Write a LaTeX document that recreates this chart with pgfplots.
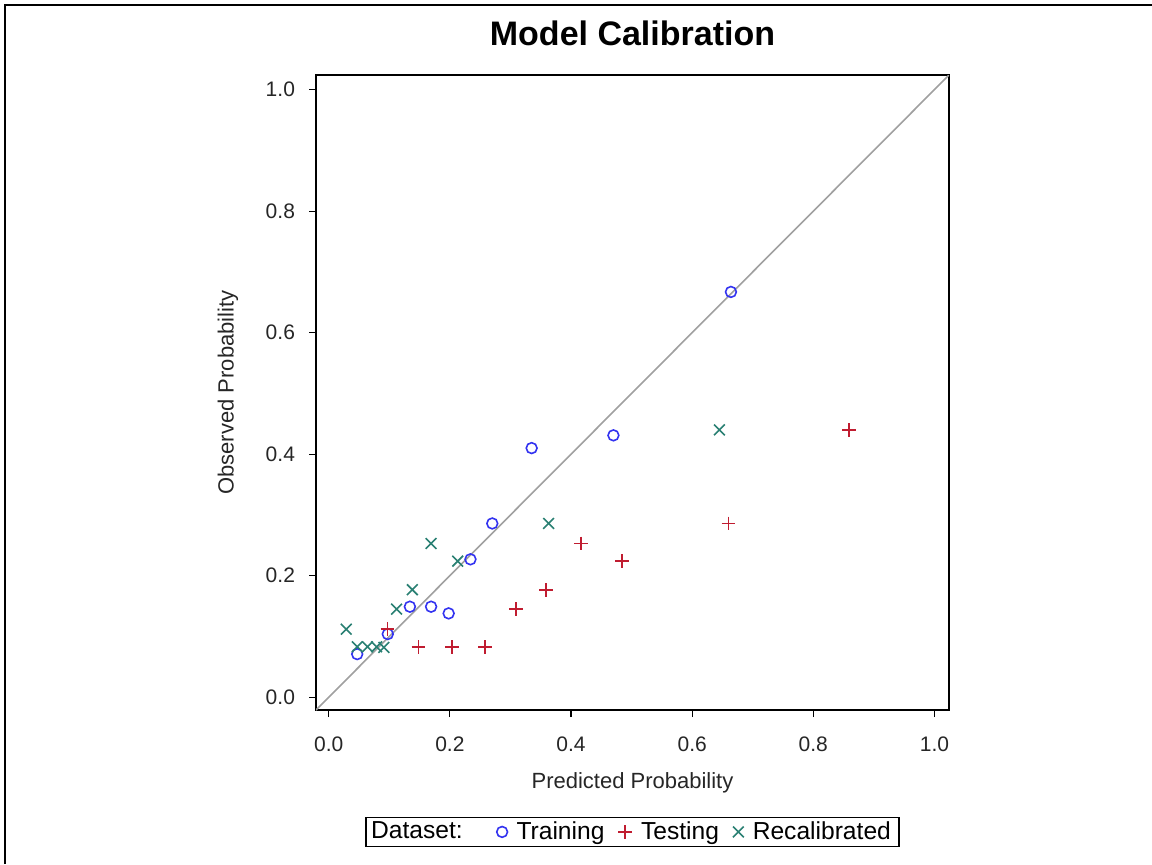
\documentclass[border=0pt]{standalone}
\usepackage{pgfplots}
\pgfplotsset{compat=1.18}
\usepackage{fontspec}
\setmainfont{Liberation Sans}
\definecolor{trainc}{RGB}{51,51,240}
\definecolor{testc}{RGB}{192,28,48}
\definecolor{recalc}{RGB}{42,128,115}
\definecolor{diagc}{RGB}{160,160,160}
\begin{document}
\begin{tikzpicture}
\path[use as bounding box] (0,0) rectangle (576pt,432pt);
\draw[line width=1pt] (2.5pt,0) -- (2.5pt,429.5pt) -- (576pt,429.5pt);
\begin{axis}[
  at={(158pt,77pt)}, anchor=south west,
  scale only axis, width=316.5pt, height=317.5pt,
  xmin=-0.021, xmax=1.024, ymin=-0.021, ymax=1.024,
  axis line style={line width=0.7pt},
  xtick={0,0.2,0.4,0.6,0.8,1.0}, ytick={0,0.2,0.4,0.6,0.8,1.0},
  tick align=outside, major tick length=3.5pt,
  tick style={black, line width=0.6pt},
  xtick pos=bottom, ytick pos=left,
  /pgf/number format/assume math mode=true,
  /pgf/number format/.cd, fixed, fixed zerofill, precision=1, /pgfplots/.cd,
  ticklabel style={font=\fontsize{10.5}{12}\selectfont, text=black!85},
  xticklabel style={yshift=-6.5pt},
  yticklabel style={xshift=-3.5pt},
  xlabel={Predicted Probability}, ylabel={Observed Probability},
  label style={font=\fontsize{11}{13}\selectfont, text=black!85},
  xlabel style={at={(axis description cs:0.5,-0.115)}, anchor=center},
  ylabel style={at={(axis description cs:-0.139,0.5)}, anchor=center},
  title={Model Calibration},
  title style={font=\bfseries\fontsize{17}{20}\selectfont, at={(axis description cs:0.5,1.047)}, anchor=center},
  legend columns=-1,
  legend style={at={(axis description cs:0.5,-0.192)}, anchor=center,
    draw=black, line width=0.8pt, font=\fontsize{12.3}{13}\selectfont,
    inner xsep=2pt, inner ysep=0pt,
    /tikz/every odd column/.append style={column sep=2.5pt},
    /tikz/every even column/.append style={column sep=5pt}},
  clip=true,
]
\addplot[diagc, line width=0.8pt, forget plot] coordinates {(-0.021,-0.021) (1.024,1.024)};
\addlegendimage{empty legend}
\addlegendentry{\hspace*{-4pt}Dataset:\hspace*{10pt}}
\addplot[only marks, mark=o, mark size=2.7pt, trainc, mark options={line width=0.8pt}] coordinates {
(0.047,0.071)
(0.0975,0.104)
(0.134,0.149)
(0.169,0.149)
(0.198,0.138)
(0.234,0.227)
(0.270,0.286)
(0.335,0.410)
(0.470,0.431)
(0.664,0.667)
};
\addlegendentry{Training}
\addplot[only marks, mark=+, mark size=3.4pt, testc, mark options={line width=0.8pt}] coordinates {
(0.097,0.112)
(0.148,0.083)
(0.204,0.083)
(0.258,0.083)
(0.309,0.145)
(0.359,0.176)
(0.416,0.253)
(0.484,0.224)
(0.660,0.286)
(0.859,0.440)
};
\addlegendentry{Testing}
\addplot[only marks, mark=x, mark size=3.8pt, recalc, mark options={line width=0.8pt}] coordinates {
(0.029,0.112)
(0.047,0.083)
(0.064,0.083)
(0.079,0.083)
(0.091,0.082)
(0.112,0.145)
(0.138,0.177)
(0.169,0.253)
(0.213,0.224)
(0.363,0.286)
(0.645,0.440)
};
\addlegendentry{Recalibrated}
\end{axis}
\end{tikzpicture}
\end{document}
